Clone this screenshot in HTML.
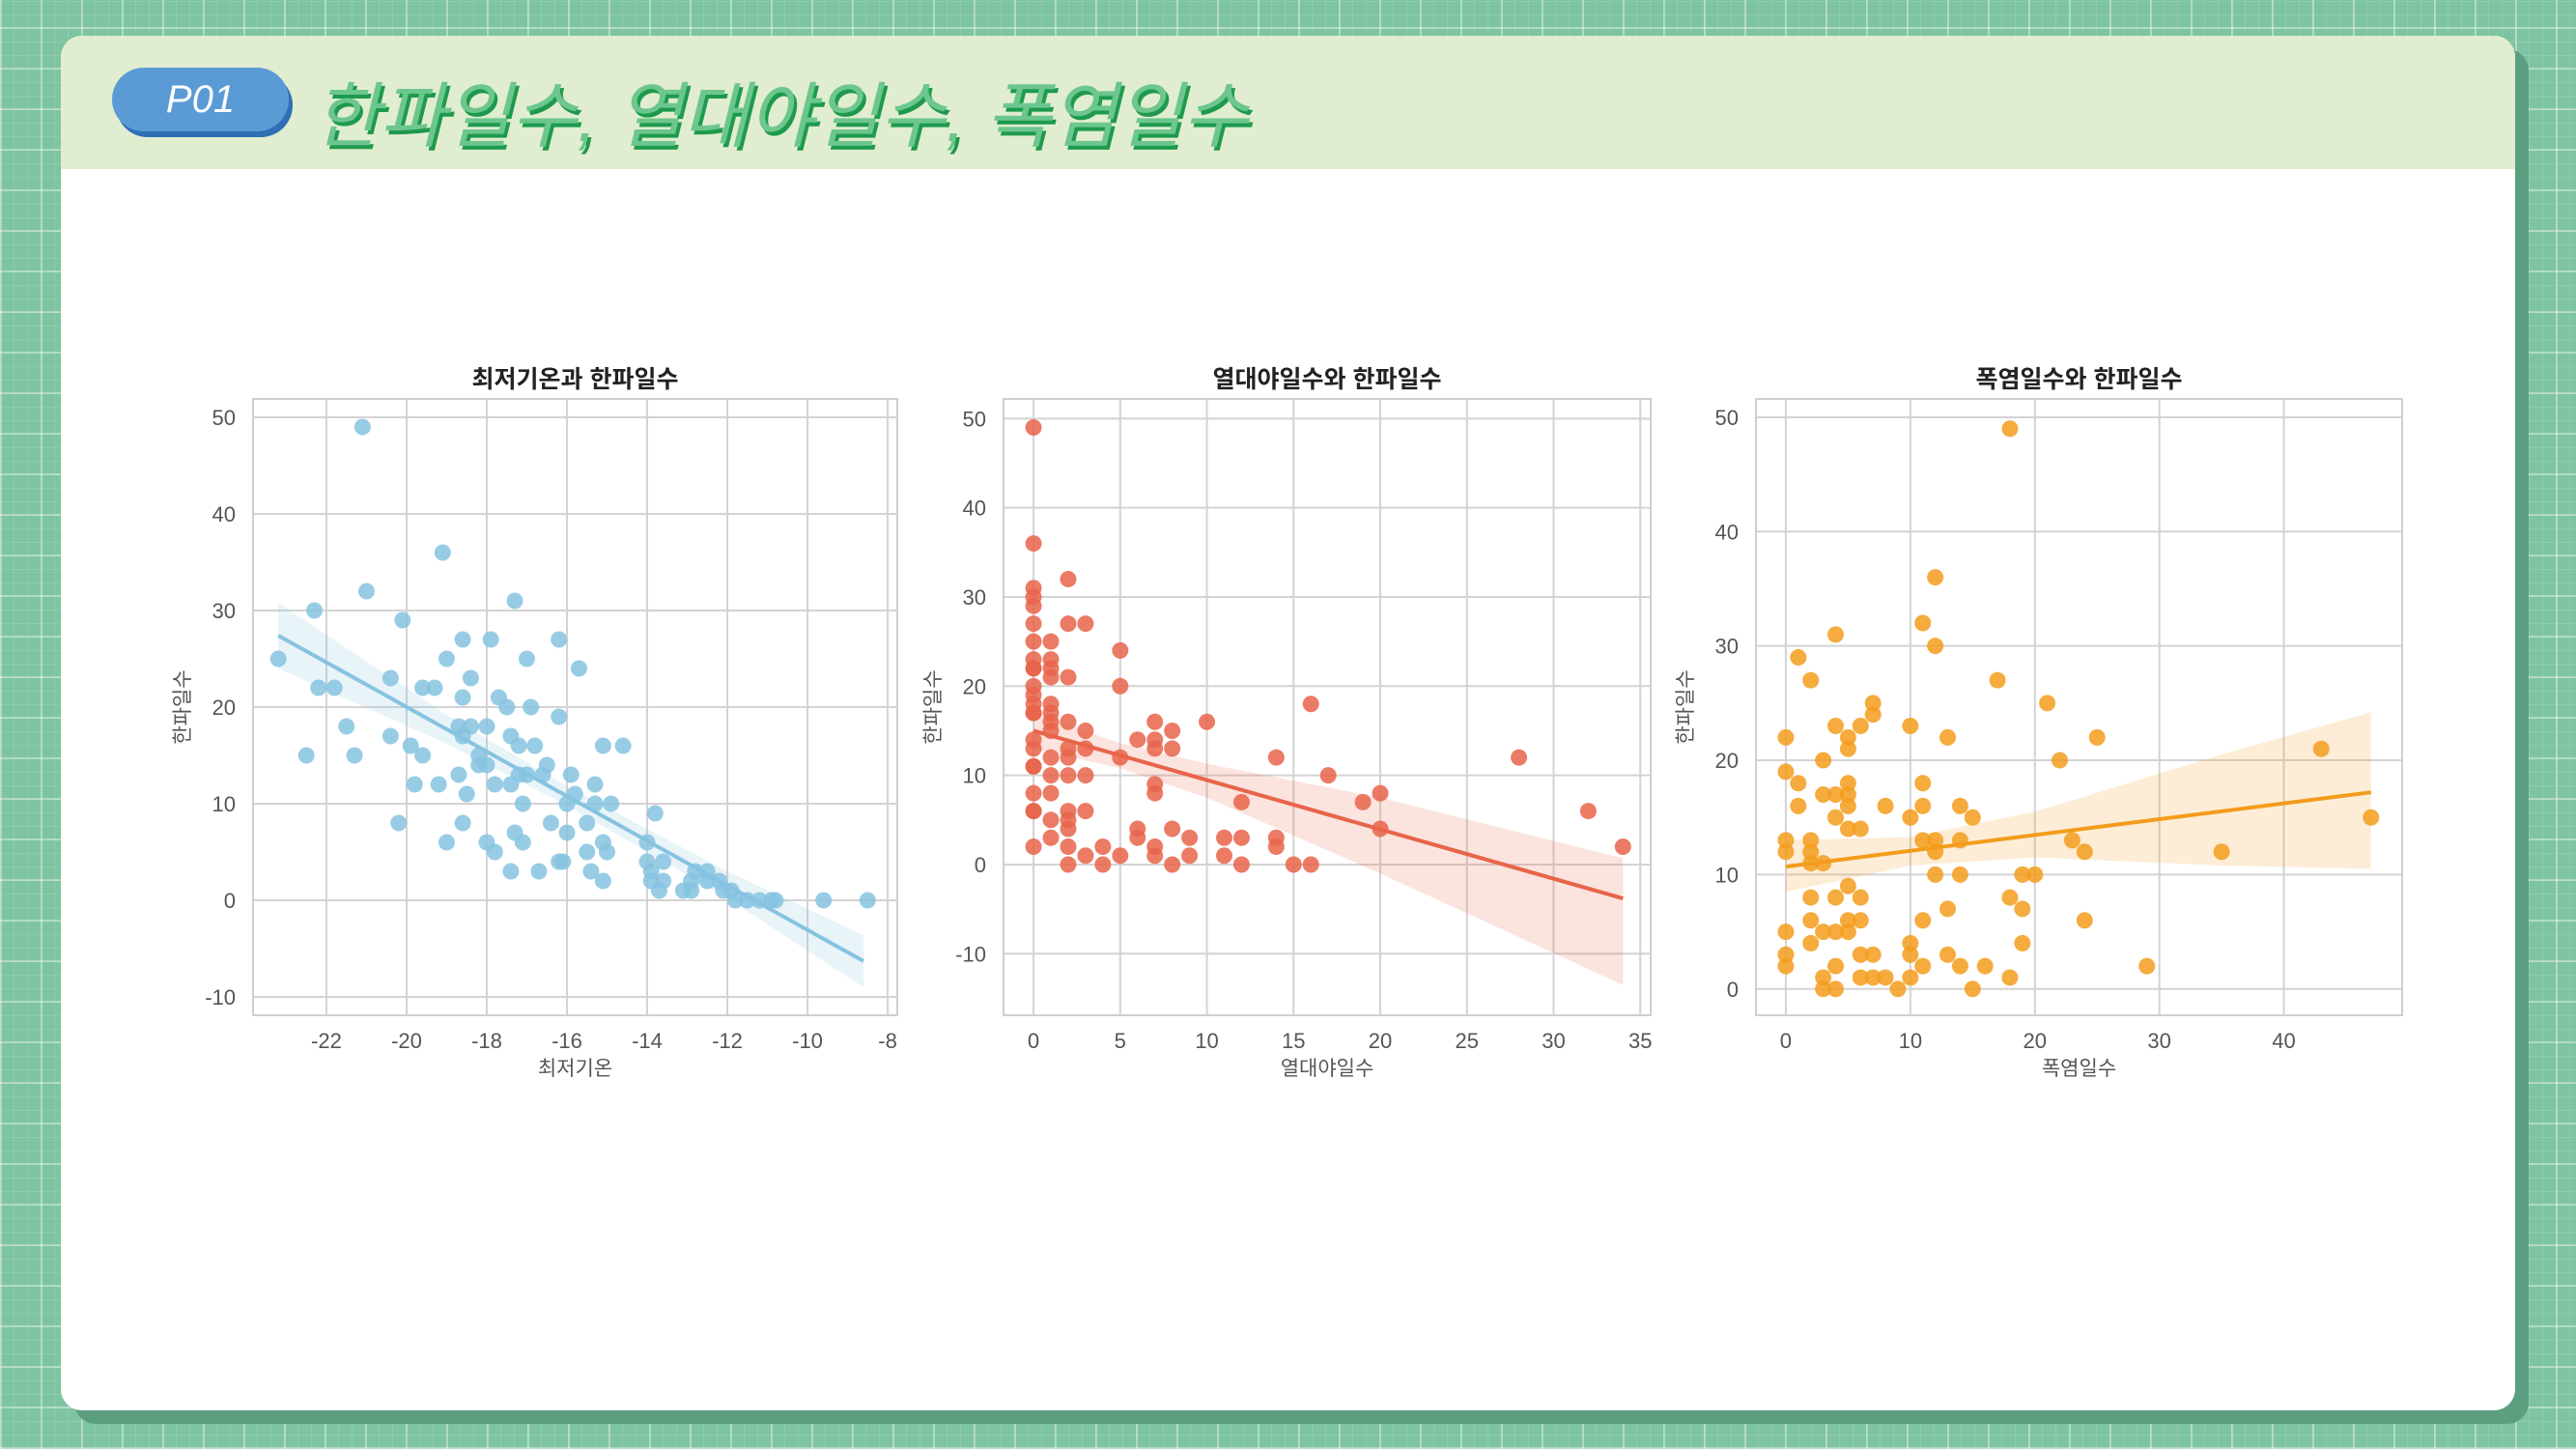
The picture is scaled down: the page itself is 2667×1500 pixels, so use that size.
<!DOCTYPE html>
<html><head><meta charset="utf-8">
<style>
html,body{margin:0;padding:0}
body{width:2667px;height:1500px;overflow:hidden;position:relative;font-family:"Liberation Sans","Noto Sans CJK KR",sans-serif;
background-color:#7fc4a2;
background-image:repeating-linear-gradient(0deg,rgba(255,255,255,.35) 0 2px,transparent 2px 42px),repeating-linear-gradient(90deg,rgba(255,255,255,.35) 0 2px,transparent 2px 42px),repeating-linear-gradient(0deg,rgba(255,255,255,.12) 0 1px,transparent 1px 14px),repeating-linear-gradient(90deg,rgba(255,255,255,.12) 0 1px,transparent 1px 14px);}
#card{position:absolute;left:63px;top:37px;width:2541px;height:1423px;background:#fff;border-radius:22px;box-shadow:14px 14px 0 #5c9f80;overflow:hidden}
#header{position:absolute;left:0;top:0;width:100%;height:138px;background:#e1edd0}
#badge{position:absolute;left:53px;top:33px;width:183px;height:66px;border-radius:33px;background:#5b9bd5;box-shadow:4px 6px 0 #2f6fb5;color:#fff;font-style:italic;font-size:40px;line-height:66px;text-align:center}
#title{position:absolute;left:262px;top:24px;font-size:74px;font-style:italic;font-weight:normal;color:#6cc68d;text-shadow:3px 4px 0 #1d9a4c;white-space:nowrap}
svg{position:absolute;left:0;top:0}
</style></head>
<body>
<div id="card">
  <div id="header">
    <div id="badge">P01</div>
    <div id="title">한파일수, 열대야일수, 폭염일수</div>
  </div>
</div>
<svg id="charts" width="2667" height="1500"></svg>
<script>
// ---- Chart 1: 최저기온 vs 한파일수
const c1X=[-23.2,-22.5,-22.3,-22.2,-21.8,-21.5,-21.3,-21.1,-21.0,-20.4,-20.4,-20.2,-20.1,-19.9,-19.8,-19.6,-19.6,-19.3,-19.2,-19.1,-19.0,-19.0,-18.7,-18.7,-18.6,-18.6,-18.6,-18.6,-18.5,-18.4,-18.4,-18.2,-18.2,-18.0,-18.0,-18.0,-17.9,-17.8,-17.8,-17.7,-17.5,-17.4,-17.4,-17.4,-17.3,-17.3,-17.2,-17.2,-17.1,-17.1,-17.0,-17.0,-16.9,-16.8,-16.7,-16.6,-16.5,-16.4,-16.2,-16.2,-16.2,-16.1,-16.0,-16.0,-15.9,-15.8,-15.7,-15.5,-15.5,-15.4,-15.3,-15.3,-15.1,-15.1,-15.1,-15.0,-14.9,-14.6,-14.0,-14.0,-13.9,-13.9,-13.8,-13.7,-13.6,-13.6,-13.1,-12.9,-12.9,-12.8,-12.5,-12.5,-12.2,-12.1,-11.9,-11.8,-11.5,-11.2,-10.9,-10.8,-9.6,-8.5];
const c1Y=[25,15,30,22,22,18,15,49,32,23,17,8,29,16,12,22,15,22,12,36,25,6,18,13,27,21,17,8,11,23,18,15,14,18,14,6,27,12,5,21,20,17,12,3,31,7,16,13,10,6,25,13,20,16,3,13,14,8,27,19,4,4,7,10,13,11,24,8,5,3,12,10,16,6,2,5,10,16,6,4,3,2,9,1,4,2,1,1,2,3,3,2,2,1,1,0,0,0,0,0,0,0];
const c1LineX=[-23.2,-8.6], c1LineY=[27.4,-6.3];
const c1BandX=[-23.2,-19,-16,-12,-8.6], c1BandLo=[24,16.2,9.8,0.2,-9], c1BandHi=[30.8,19.2,11.8,3,-3.6];
const c1XTicks=[-22,-20,-18,-16,-14,-12,-10,-8], c1YTicks=[-10,0,10,20,30,40,50];
// ---- Chart 2: 열대야일수 vs 한파일수
const c2X=[0,0,0,0,0,0,0,0,0,0,0,0,0,0,0,0,0,0,0,0,0,0,0,1,1,1,1,1,1,1,1,1,1,1,1,1,2,2,2,2,2,2,2,2,2,2,2,2,3,3,3,3,3,3,4,4,5,5,5,5,6,6,6,7,7,7,7,7,7,7,8,8,8,8,9,9,10,11,11,12,12,12,14,14,14,15,16,16,17,19,20,20,28,32,34];
const c2Y=[49,36,31,30,29,27,25,23,22,22,20,19,18,17,17,14,13,11,11,8,6,6,2,25,23,22,21,18,17,16,15,12,10,8,5,3,32,27,21,16,13,12,10,6,5,4,2,0,27,15,13,10,6,1,2,0,24,20,12,1,14,4,3,16,14,13,9,8,2,1,15,13,4,0,3,1,16,3,1,7,3,0,12,3,2,0,18,0,10,7,8,4,12,6,2];
const c2LineX=[0,34], c2LineY=[15,-3.8];
const c2BandX=[0,5,10,20,34], c2BandLo=[13,10.8,7.5,-1,-13.5], c2BandHi=[17,13.6,11.3,7.5,0.7];
const c2XTicks=[0,5,10,15,20,25,30,35], c2YTicks=[-10,0,10,20,30,40,50];
// ---- Chart 3: 폭염일수 vs 한파일수
const c3X=[0,0,0,0,0,0,0,1,1,1,2,2,2,2,2,2,2,3,3,3,3,3,3,4,4,4,4,4,4,4,4,5,5,5,5,5,5,5,5,5,6,6,6,6,6,6,7,7,7,7,8,8,9,10,10,10,10,10,11,11,11,11,11,11,12,12,12,12,12,13,13,13,14,14,14,14,15,15,16,17,18,18,18,19,19,19,20,21,22,23,24,24,25,29,35,43,47];
const c3Y=[22,19,13,12,5,3,2,29,18,16,27,13,12,11,8,6,4,20,17,11,5,1,0,31,23,17,15,8,5,2,0,22,21,18,17,16,14,9,6,5,23,14,8,6,3,1,25,24,3,1,16,1,0,23,15,4,3,1,32,18,16,13,6,2,36,30,13,12,10,22,7,3,16,13,10,2,15,0,2,27,49,8,1,10,7,4,10,25,20,13,12,6,22,2,12,21,15];
const c3LineX=[0,47], c3LineY=[10.7,17.2];
const c3BandX=[0,10,20,35,47], c3BandLo=[8.5,10.8,11.5,10.8,10.5], c3BandHi=[13,13.3,15.5,20.5,24.2];
const c3XTicks=[0,10,20,30,40], c3YTicks=[0,10,20,30,40,50];

const NS='http://www.w3.org/2000/svg';
const svg=document.getElementById('charts');
function mk(tag,attrs,parent){const e=document.createElementNS(NS,tag);for(const k in attrs)e.setAttribute(k,attrs[k]);(parent||svg).appendChild(e);return e;}

function chart(o){
  const g=mk('g',{});
  
  
  const sx=v=>o.px0+(v-o.xmin)/(o.xmax-o.xmin)*(o.px1-o.px0);
  const sy=v=>o.py1-(v-o.ymin)/(o.ymax-o.ymin)*(o.py1-o.py0);
  o.xt.forEach(t=>{const l=mk('line',{x1:sx(t),x2:sx(t),y1:o.py0,y2:o.py1,stroke:'#d3d3d3','stroke-width':2},g);
    
    const tx=mk('text',{x:sx(t),y:o.py1+34,'text-anchor':'middle','font-size':22,fill:'#555'},g);tx.textContent=t;
    });
  o.yt.forEach(t=>{const l=mk('line',{x1:o.px0,x2:o.px1,y1:sy(t),y2:sy(t),stroke:'#d3d3d3','stroke-width':2},g);
    
    const tx=mk('text',{x:o.px0-18,y:sy(t)+8,'text-anchor':'end','font-size':22,fill:'#555'},g);tx.textContent=t;
    });
  const fr=mk('rect',{x:o.px0,y:o.py0,width:o.px1-o.px0,height:o.py1-o.py0,fill:'none',stroke:'#cfcfcf','stroke-width':2},g);
  
  let d='M'+o.bx.map((x,i)=>sx(x)+','+sy(o.bhi[i])).join('L');
  d+='L'+o.bx.slice().reverse().map((x,i)=>sx(x)+','+sy(o.blo[o.bx.length-1-i])).join('L')+'Z';
  const band=mk('path',{d:d,fill:o.color,'fill-opacity':0.18},g);
  
  o.xs.forEach((x,i)=>{const c=mk('circle',{cx:sx(x),cy:sy(o.ys[i]),r:8.5,fill:o.color,'fill-opacity':0.85},g);
    });
  const ln=mk('line',{x1:sx(o.lx[0]),y1:sy(o.ly[0]),x2:sx(o.lx[1]),y2:sy(o.ly[1]),stroke:o.color,'stroke-width':4},g);
  
  const cx=(o.px0+o.px1)/2;
  const tt=mk('text',{x:cx,y:o.py0-12,'text-anchor':'middle','font-size':25,'font-weight':'bold',fill:'#222'},g);tt.textContent=o.title;
  
  const xl=mk('text',{x:cx,y:o.py1+62,'text-anchor':'middle','font-size':21,fill:'#555'},g);xl.textContent=o.xlabel;
  
  const ym=(o.py0+o.py1)/2;
  const yl=mk('text',{x:o.px0-66,y:ym,'text-anchor':'middle','font-size':21,fill:'#555',transform:'rotate(-90 '+(o.px0-66)+' '+ym+')'},g);yl.textContent='한파일수';
  
}
chart({name:'chart-min-temp',title:'최저기온과 한파일수',xlabel:'최저기온',color:'#86c3e0',px0:262,px1:929,py0:413,py1:1051,xmin:-23.83,xmax:-7.76,ymin:-11.9,ymax:51.9,
  xs:c1X,ys:c1Y,lx:c1LineX,ly:c1LineY,bx:c1BandX,blo:c1BandLo,bhi:c1BandHi,xt:c1XTicks,yt:c1YTicks});
chart({name:'chart-tropical-nights',title:'열대야일수와 한파일수',xlabel:'열대야일수',color:'#e8644a',px0:1039,px1:1709,py0:413,py1:1051,xmin:-1.73,xmax:35.6,ymin:-16.9,ymax:52.2,
  xs:c2X,ys:c2Y,lx:c2LineX,ly:c2LineY,bx:c2BandX,blo:c2BandLo,bhi:c2BandHi,xt:c2XTicks,yt:c2YTicks});
chart({name:'chart-heatwave',title:'폭염일수와 한파일수',xlabel:'폭염일수',color:'#f39c1c',px0:1818,px1:2487,py0:413,py1:1051,xmin:-2.4,xmax:49.5,ymin:-2.3,ymax:51.6,
  xs:c3X,ys:c3Y,lx:c3LineX,ly:c3LineY,bx:c3BandX,blo:c3BandLo,bhi:c3BandHi,xt:c3XTicks,yt:c3YTicks});
</script>
</body></html>
